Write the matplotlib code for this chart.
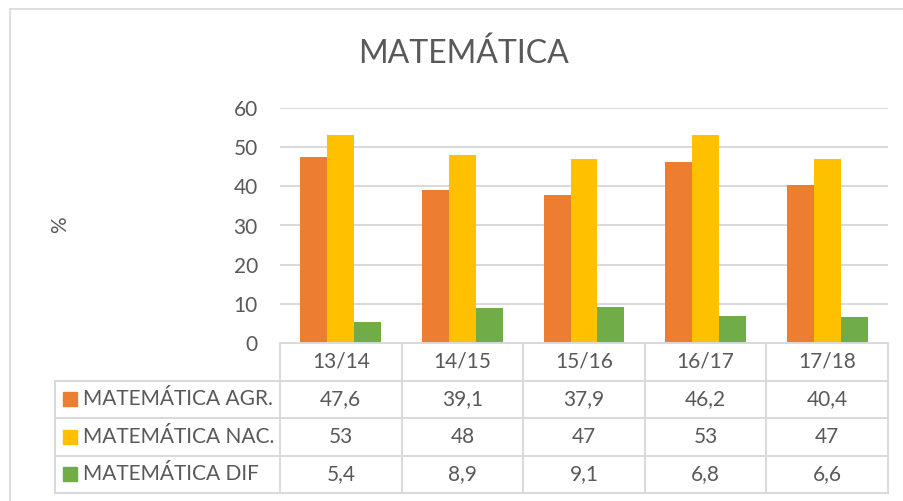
import matplotlib
matplotlib.use('Agg')
import matplotlib.pyplot as plt
from matplotlib.lines import Line2D

plt.rcParams['font.family'] = ['Lato', 'DejaVu Sans']

######################################################
# Data
years = ['13/14', '14/15', '15/16', '16/17', '17/18']
series_names = ['MATEMÁTICA AGR.', 'MATEMÁTICA NAC.', 'MATEMÁTICA DIF']
agr = [47.6, 39.1, 37.9, 46.2, 40.4]
nac = [53, 48, 47, 53, 47]
dif = [5.4, 8.9, 9.1, 6.8, 6.6]
colors = ['#ED7D31', '#FFC000', '#70AD47']
text_col = '#595959'
line_col = '#d9d9d9'
fs = 15

W, H = 904, 501
fig = plt.figure(figsize=(W / 100, H / 100), dpi=100)

# chart frame (left and top edges visible)
fig.add_artist(Line2D([10 / W, 10 / W], [0, 1 - 9 / H], color=line_col, lw=1.2))
fig.add_artist(Line2D([10 / W, 1], [1 - 9 / H, 1 - 9 / H], color=line_col, lw=1.2))

# pixel helpers
x0, x1 = 280, 888
y_top, y_zero, y_bot = 108, 343, 493

ax = fig.add_axes([x0 / W, 1 - y_zero / H, (x1 - x0) / W, (y_zero - y_top) / H])
pos = range(len(years))
bw = 0.222
for k, vals in enumerate([agr, nac, dif]):
    ax.bar([p + (k - 1) * bw for p in pos], vals, width=bw, color=colors[k], zorder=3)
ax.set_xlim(-0.5, len(years) - 0.5)
ax.set_ylim(0, 60)
ax.set_yticks(range(0, 61, 10))
ax.grid(axis='y', color=line_col, lw=1.4, zorder=0)
for s in ax.spines.values():
    s.set_visible(False)
ax.tick_params(axis='y', length=0, pad=16, labelsize=fs, labelcolor=text_col)
ax.tick_params(axis='x', length=0, labelbottom=False)

fig.text(60 / W, 1 - 225 / H, '%', fontsize=fs, color=text_col, rotation=90,
         ha='center', va='center')
fig.text(464 / W, 1 - 54 / H, 'MATEMÁTICA', fontsize=23, color=text_col,
         ha='center', va='center')

######################################################
# data table under the chart
tab = fig.add_axes([x0 / W, 1 - y_bot / H, (x1 - x0) / W, (y_bot - y_zero) / H])
tab.set_xlim(-0.5, len(years) - 0.5)
tab.set_ylim(4, 0)
tab.axis('off')
unit = (x1 - x0) / len(years)
left_x = -0.5 - (x0 - 55) / unit
sq_x = -0.5 - (x0 - 70) / unit
lab_x = -0.5 - (x0 - 83) / unit

kw = dict(color=line_col, lw=1.4, clip_on=False)
tab.plot([-0.5, len(years) - 0.5], [0, 0], **kw)
for r in range(1, 5):
    tab.plot([left_x, len(years) - 0.5], [r, r], **kw)
for c in range(len(years) + 1):
    tab.plot([c - 0.5, c - 0.5], [0, 4], **kw)
tab.plot([left_x, left_x], [1, 4], **kw)

for i, y in enumerate(years):
    tab.text(i, 0.5, y, ha='center', va='center', fontsize=fs, color=text_col)
for r, vals in enumerate([agr, nac, dif]):
    for i, v in enumerate(vals):
        tab.text(i, r + 1.5, f'{v:g}'.replace('.', ','), ha='center', va='center',
                 fontsize=fs, color=text_col)
    tab.plot([sq_x], [r + 1.5], marker='s', ms=10, color=colors[r], clip_on=False)
    tab.text(lab_x, r + 1.5, series_names[r], ha='left', va='center',
             fontsize=fs, color=text_col)

fig.savefig('out.png', dpi=100)
